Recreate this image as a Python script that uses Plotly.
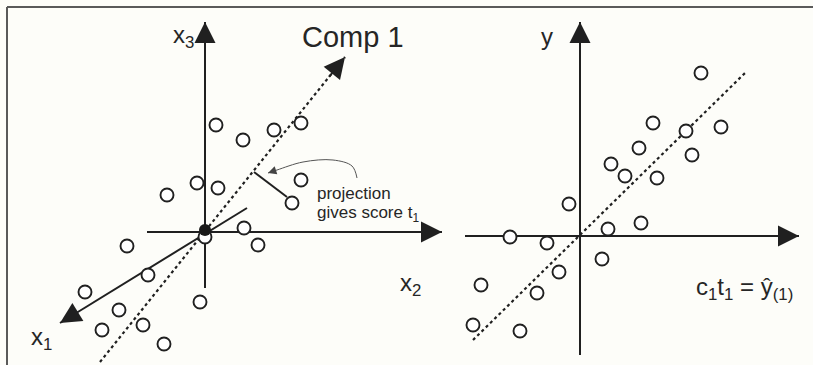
import plotly.graph_objects as go

# ---------------- data ----------------
# Left panel: observations in (x1, x2, x3) space, drawn in the projected view
left_x = [0.55, 1.9, 3.45, 4.8, 4.8, 4.35, -0.4, 0.65, -1.9, 1.95,
          2.65, 0.0, -3.9, -2.85, -6.0, -4.3, -5.15, -3.1, -0.25, -2.05]
left_y = [5.35, 4.6, 5.1, 5.45, 2.6, 1.45, 2.45, 2.2, 1.85, 0.2,
          -0.65, -0.25, -0.7, -2.15, -3.0, -3.9, -4.9, -4.65, -3.5, -5.6]

# Right panel: predicted c1*t1 vs observed y
right_x = [6.05, 3.65, 7.05, 5.3, 2.95, 5.6, 1.55, 2.25, 3.85, -0.55,
           3.05, 1.4, -3.5, -1.65, 1.1, -1.05, -4.95, -2.15, -5.35, -3.0]
right_y = [8.15, 5.65, 5.45, 5.25, 4.4, 4.05, 3.6, 3.0, 2.9, 1.6,
           0.65, 0.35, -0.05, -0.35, -1.15, -1.8, -2.45, -2.85, -4.45, -4.75]

# Axis segments (tail, tip) in each panel's units
x3_axis = [(0, -2.8), (0, 10.5)]
x2_axis = [(-2.9, 0), (11.85, 0)]
x1_axis = [(2.1, 1.2), (-7.25, -4.55)]
comp1_line = [(-5.25, -6.5), (7.0, 8.75)]
proj_segment = [(2.45, 3.0), (4.1, 1.75)]
proj_pointer = [(7.6, 2.7), (7.35, 3.3), (6.4, 3.6), (4.9, 3.5), (3.6, 3.1), (3.15, 2.95)]

y_axis = [(0, -5.95), (0, 10.7)]
t_axis = [(-5.75, 0), (10.95, 0)]
fit_line = [(-5.35, -5.2), (8.25, 8.15)]

INK = "#202020"
FONT = "Liberation Sans, Arial, sans-serif"
BG = "#fdfdf9"

fig = go.Figure()


def seg(pts, xa, ya, dash=None, width=2.0, color=INK, shape="linear"):
    fig.add_trace(go.Scatter(
        x=[p[0] for p in pts], y=[p[1] for p in pts], xaxis=xa, yaxis=ya,
        mode="lines",
        line=dict(color=color, width=width, dash=dash, shape=shape),
        hoverinfo="skip", showlegend=False))


def head(pts, xa, ya, frac=0.1, size=2.1, width=2, color=INK):
    # filled arrowhead at the last point, pointing along the last segment
    a, b = pts[-2], pts[-1]
    bx = b[0] - (b[0] - a[0]) * frac
    by = b[1] - (b[1] - a[1]) * frac
    fig.add_annotation(
        x=b[0], y=b[1], ax=bx, ay=by,
        xref=xa, yref=ya, axref=xa, ayref=ya,
        text="", showarrow=True, arrowhead=2, arrowsize=size,
        arrowwidth=width, arrowcolor=color, standoff=0, startstandoff=0)


# ---- left panel ----
for ax_pts in [x3_axis, x2_axis, x1_axis]:
    seg(ax_pts, "x", "y")
seg(comp1_line, "x", "y", dash="dot", width=2.2)
seg(proj_segment, "x", "y", width=2)
seg(proj_pointer, "x", "y", width=1, color="#555555", shape="spline")

for ax_pts in [x3_axis, x2_axis, x1_axis]:
    head(ax_pts, "x", "y")
head(comp1_line, "x", "y", frac=0.07)
head(proj_pointer, "x", "y", frac=1.0, size=1.4, width=1.2, color="#444444")

fig.add_trace(go.Scatter(
    x=left_x, y=left_y, xaxis="x", yaxis="y", mode="markers",
    marker=dict(symbol="circle", size=13, color="white",
                line=dict(color=INK, width=1.9)),
    hoverinfo="skip", showlegend=False))
fig.add_trace(go.Scatter(
    x=[0], y=[0.1], xaxis="x", yaxis="y", mode="markers",
    marker=dict(symbol="circle", size=12, color="#1a1a1a"),
    hoverinfo="skip", showlegend=False))

# ---- right panel ----
for ax_pts in [y_axis, t_axis]:
    seg(ax_pts, "x2", "y2")
seg(fit_line, "x2", "y2", dash="dot", width=2.2)
for ax_pts in [y_axis, t_axis]:
    head(ax_pts, "x2", "y2")

fig.add_trace(go.Scatter(
    x=right_x, y=right_y, xaxis="x2", yaxis="y2", mode="markers",
    marker=dict(symbol="circle", size=13, color="white",
                line=dict(color=INK, width=1.9)),
    hoverinfo="skip", showlegend=False))


# ---- text labels ----
def label(txt, x, y, xa, ya, size, anchor="center"):
    fig.add_annotation(x=x, y=y, xref=xa, yref=ya, text=txt, showarrow=False,
                       xanchor=anchor, yanchor="middle",
                       font=dict(family=FONT, size=size, color="#262626"))


label("Comp 1", 7.4, 9.75, "x", "y", 29)
label("x<sub>3</sub>", -1.1, 9.8, "x", "y", 24)
label("x<sub>2</sub>", 10.25, -2.6, "x", "y", 24)
label("x<sub>1</sub>", -8.2, -5.3, "x", "y", 24)
label("projection", 5.5, 1.95, "x", "y", 17, "left")
label("gives score t<sub>1</sub>", 5.5, 0.9, "x", "y", 17, "left")
label("y", -1.65, 10.0, "x2", "y2", 24)
label("c<sub>1</sub>t<sub>1</sub> = ŷ<sub>(1)</sub>", 8.2, -2.6, "x2", "y2", 24)

hidden = dict(visible=False, showgrid=False, zeroline=False, fixedrange=True)
fig.update_layout(
    width=813, height=365,
    margin=dict(l=0, r=0, t=0, b=0),
    paper_bgcolor=BG, plot_bgcolor=BG,
    xaxis=dict(domain=[0, 455 / 813], range=[-10.25, 12.5], **hidden),
    yaxis=dict(domain=[0, 1], range=[-6.65, 11.6], **hidden),
    xaxis2=dict(domain=[455 / 813, 1], range=[-6.25, 11.65], **hidden),
    yaxis2=dict(domain=[0, 1], range=[-6.45, 11.8], anchor="x2", **hidden),
    shapes=[
        dict(type="line", xref="paper", yref="paper",
             x0=7 / 813, x1=1, y0=1 - 7 / 365, y1=1 - 7 / 365,
             line=dict(color="#5a5a5a", width=2)),
        dict(type="line", xref="paper", yref="paper",
             x0=7 / 813, x1=7 / 813, y0=0, y1=1 - 7 / 365,
             line=dict(color="#5a5a5a", width=2)),
    ],
)

fig.write_html("out.html")
